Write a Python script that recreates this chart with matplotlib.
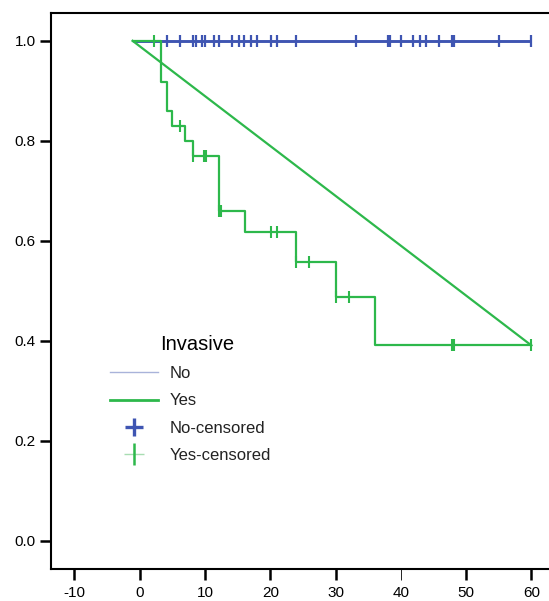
import numpy as np
import matplotlib
matplotlib.use("Agg")
import matplotlib.pyplot as plt
from matplotlib.lines import Line2D
from matplotlib.legend_handler import HandlerTuple

plt.rcParams['font.family'] = ['Liberation Sans', 'DejaVu Sans']

# ---- data ----
yes_times = [-1.1, 3.3, 4.1, 5.0, 7.0, 8.2, 12.1, 16.1, 24.0, 30.0, 36.0, 60.0]
yes_surv = [1.0, 0.917, 0.859, 0.830, 0.800, 0.770, 0.659, 0.617, 0.557, 0.487, 0.391, 0.391]
yes_censored = [2.2, 6.1, 8.2, 9.8, 10.1, 12.2, 12.5, 20.1, 21.1, 24.0, 26.0, 30.0, 32.0, 47.9, 48.1, 60.0]

no_times = [-1.1, 60.0]
no_surv = [1.0, 1.0]
no_censored = [4.1, 6.1, 8.1, 8.6, 9.6, 10.0, 11.3, 12.1, 14.1, 15.2, 16.0, 17.0, 17.9,
               20.1, 21.1, 24.0, 33.1, 38.0, 38.3, 40.1, 41.9, 43.0, 43.9, 45.8, 47.8, 48.1, 55.0, 60.0]

diag_x = [-1.1, 60.0]
diag_y = [1.0, 0.391]

x_ticks = [-10, 0, 10, 20, 30, 40, 50, 60]
y_ticks = [0.0, 0.2, 0.4, 0.6, 0.8, 1.0]
y_tick_labels = ['0.0', '0.2', '0.4', '0.6', '0.8', '1.0']

legend_title = 'Invasive'
legend_labels = ['No', 'Yes', 'No-censored', 'Yes-censored']

BLUE = '#3F55B2'
GREEN = '#2DB84B'
LIGHT_BLUE = '#A9B3DA'
LIGHT_GREEN = '#A8DDB2'


def step_value(t):
    idx = np.searchsorted(yes_times, t, side='right') - 1
    return yes_surv[max(idx, 0)]


fig = plt.figure(figsize=(5.49, 6.01), dpi=100)
ax = fig.add_axes([51 / 549, 1 - 569 / 601, 1 - 51 / 549, (569 - 13.3) / 601])

# No curve
ax.plot(no_times, no_surv, color=BLUE, lw=2.1, solid_capstyle='butt', zorder=2)
ax.plot(no_censored, [1.0] * len(no_censored), linestyle='none', marker='|',
        markersize=8.5, markeredgewidth=1.6, color=BLUE, zorder=3)

# Yes curve
ax.step(yes_times, yes_surv, where='post', color=GREEN, lw=1.6, zorder=4)
ax.plot(diag_x, diag_y, color=GREEN, lw=1.6, zorder=4)
ax.plot(yes_censored, [step_value(t) for t in yes_censored], linestyle='none', marker='|',
        markersize=8, markeredgewidth=1.5, color=GREEN, zorder=5)

ax.set_xlim(-13.6, 62.7)
ax.set_ylim(-0.056, 1.055)
ax.set_xticks(x_ticks)
ax.set_xticklabels([str(v) for v in x_ticks])
ax.set_yticks(y_ticks)
ax.set_yticklabels(y_tick_labels)

for s in ['left', 'top', 'bottom']:
    ax.spines[s].set_linewidth(1.5)
    ax.spines[s].set_color('black')
ax.spines['right'].set_visible(False)

ax.tick_params(axis='both', direction='out', length=8, width=1.8, labelsize=11,
               colors='black')
ax.tick_params(axis='y', pad=3)
ax.tick_params(axis='x', pad=4)
ax.xaxis.set_ticks_position('bottom')
ax.yaxis.set_ticks_position('left')
t40 = ax.xaxis.get_major_ticks()[x_ticks.index(40)]
t40.tick1line.set_color('#999999')
t40.tick1line.set_markeredgewidth(0.6)

# Legend
h_no = Line2D([], [], color=LIGHT_BLUE, lw=1.0)
h_yes = Line2D([], [], color=GREEN, lw=2.0)
h_noc = Line2D([], [], color=BLUE, marker='+', markersize=13, markeredgewidth=2.4,
               linestyle='none')
h_yc1 = Line2D([], [], color=LIGHT_GREEN, marker='_', markersize=15, markeredgewidth=1.0,
               linestyle='none')
h_yc2 = Line2D([], [], color=GREEN, marker='|', markersize=16, markeredgewidth=1.8,
               linestyle='none')
leg = ax.legend([h_no, h_yes, h_noc, (h_yc1, h_yc2)], legend_labels,
                handler_map={tuple: HandlerTuple(ndivide=1)},
                loc='upper left', bbox_to_anchor=((110 - 51) / 498, (569 - 366) / 555.7),
                frameon=False, fontsize=12, borderpad=0, borderaxespad=0,
                handlelength=2.9, handletextpad=0.65, labelspacing=0.74)
for t in leg.get_texts():
    t.set_color('#222222')
ax.text((160 - 51) / 498, (569 - 345) / 555.7, legend_title, transform=ax.transAxes,
        fontsize=14.5, va='center', ha='left', color='black')

fig.savefig('out.png', dpi=100)
